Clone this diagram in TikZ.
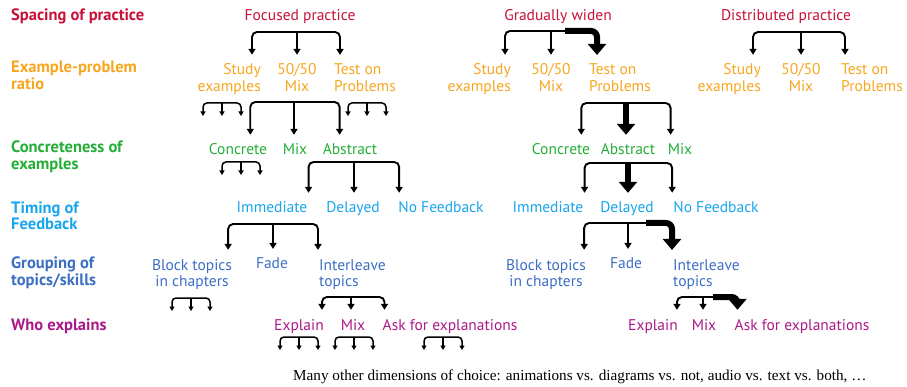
\documentclass[tikz,border=0pt]{standalone}
\usepackage{fontspec}
\setmainfont{PT Sans}
\newfontfamily\notefont{Liberation Serif}
\usetikzlibrary{arrows.meta}
\definecolor{spacered}{RGB}{200,16,56}
\definecolor{ratioorange}{RGB}{247,166,30}
\definecolor{concgreen}{RGB}{35,175,55}
\definecolor{timeblue}{RGB}{25,165,235}
\definecolor{groupblue}{RGB}{60,110,195}
\definecolor{whopurple}{RGB}{170,25,135}
\tikzset{
    row-label/.style = {anchor=base west, align=left, inner sep=1pt, font=\bfseries\fontsize{16.5}{17}\selectfont},
    choice/.style = {anchor=base, align=center, inner sep=1pt, font=\fontsize{15.5}{17}\selectfont},
    fork/.style = {draw, line width=1.9pt, rounded corners=5pt, -{Triangle[length=6pt,width=7pt]}, shorten >=8pt},
    big-arrow/.style = {draw, line width=6pt, rounded corners=6pt, -{Triangle[length=11pt,width=18pt]}, shorten >=8pt},
    stub/.style = {draw, line width=1.5pt, rounded corners=4pt, -{Triangle[length=4.5pt,width=5pt]}},
}
% fork: hub, left target, middle node, right target
\newcommand{\fork}[4]{
    \draw[fork] (#1) -| (#2);
    \draw[fork] (#1) -- (#1 |- #3.north);
    \draw[fork] (#1) -| (#4);
}
% small fork with nothing below it
\newcommand{\stubfork}[1]{
    \draw[stub] (#1) -| ++(-19,13);
    \draw[stub] (#1) -- ++(0,13);
    \draw[stub] (#1) -| ++(19,13);
}

\begin{document}
\begin{tikzpicture}[x=1pt, y=-1pt]
\useasboundingbox (0,0) rectangle (907,387);

% row labels
\node[row-label, text=spacered] (l-spacing) at (10,21) {Spacing of practice};
\node[row-label, text=ratioorange] (l-ratio) at (10,90) {Example-problem\\ratio};
\node[row-label, text=concgreen] (l-concrete) at (10,170) {Concreteness of\\examples};
\node[row-label, text=timeblue] (l-timing) at (10,230) {Timing of\\Feedback};
\node[row-label, text=groupblue] (l-grouping) at (10,285) {Grouping of\\topics/skills};
\node[row-label, text=whopurple] (l-who) at (10,330) {Who explains};

% column heads
\node[choice, text=spacered] (fp) at (300,21) {Focused practice};
\node[choice, text=spacered] (gw) at (558,21) {Gradually widen};
\node[choice, text=spacered] (dp) at (786,21) {Distributed practice};

% example-problem ratio
\node[choice, text=ratioorange, anchor=base east, align=right] (fse) at (262,92) {Study\\examples};
\node[choice, text=ratioorange] (fmx) at (297,92) {50/50\\Mix};
\node[choice, text=ratioorange, anchor=base west, align=left] (ftp) at (333,92) {Test on\\Problems};
\node[choice, text=ratioorange, anchor=base east, align=right] (gse) at (512,92) {Study\\examples};
\node[choice, text=ratioorange] (gmx) at (551,92) {50/50\\Mix};
\node[choice, text=ratioorange, anchor=base west, align=left] (gtp) at (588,92) {Test on\\Problems};
\node[choice, text=ratioorange, anchor=base east, align=right] (dse) at (762,92) {Study\\examples};
\node[choice, text=ratioorange] (dmx) at (801,92) {50/50\\Mix};
\node[choice, text=ratioorange, anchor=base west, align=left] (dtp) at (840,92) {Test on\\Problems};

% concreteness
\node[choice, text=concgreen] (fco) at (238,155) {Concrete};
\node[choice, text=concgreen] (fcm) at (295,155) {Mix};
\node[choice, text=concgreen] (fab) at (350,155) {Abstract};
\node[choice, text=concgreen] (gco) at (561,155) {Concrete};
\node[choice, text=concgreen] (gab) at (628,155) {Abstract};
\node[choice, text=concgreen] (gcm) at (680,155) {Mix};

% timing of feedback
\node[choice, text=timeblue] (fim) at (272,213) {Immediate};
\node[choice, text=timeblue] (fde) at (353,213) {Delayed};
\node[choice, text=timeblue] (fnf) at (441,213) {No Feedback};
\node[choice, text=timeblue] (gim) at (548,213) {Immediate};
\node[choice, text=timeblue] (gde) at (627,213) {Delayed};
\node[choice, text=timeblue] (gnf) at (716,213) {No Feedback};

% grouping
\node[choice, text=groupblue] (fbt) at (192,287) {Block topics\\in chapters};
\node[choice, text=groupblue] (ffa) at (272,269) {Fade};
\node[choice, text=groupblue, anchor=base west, align=left] (fil) at (318,287) {Interleave\\topics};
\node[choice, text=groupblue] (gbt) at (546,287) {Block topics\\in chapters};
\node[choice, text=groupblue] (gfa) at (626,269) {Fade};
\node[choice, text=groupblue, anchor=base west, align=left] (gil) at (672,287) {Interleave\\topics};

% who explains
\node[choice, text=whopurple] (fex) at (299,330) {Explain};
\node[choice, text=whopurple] (fwm) at (353,330) {Mix};
\node[choice, text=whopurple] (fas) at (450,330) {Ask for explanations};
\node[choice, text=whopurple] (gex) at (653,330) {Explain};
\node[choice, text=whopurple] (gwm) at (704,330) {Mix};
\node[choice, text=whopurple] (gas) at (802,330) {Ask for explanations};

\node[anchor=base west, inner sep=0pt, font=\notefont\fontsize{15.2}{17}\selectfont] (note) at (293,380)
    {Many other dimensions of choice: animations vs. diagrams vs. not, audio vs. text vs. both, \dots};

% hubs of the forks
\coordinate (h1) at (297,32);
\coordinate (h2) at (294,102);
\coordinate (h3) at (354,162);
\coordinate (h4) at (273,224);
\coordinate (h5) at (351,297);
\coordinate (h6) at (551,31);
\coordinate (h7) at (626,103);
\coordinate (h8) at (628,163);
\coordinate (h9) at (628,223);
\coordinate (h10) at (703,297);
\coordinate (h11) at (801,32);

% focused practice
\fork{h1}{[xshift=-10pt]fse.north east}{fmx}{[xshift=7pt]ftp.north west}
\fork{h2}{[xshift=-18pt]fco.north east}{fcm}{[xshift=18pt]fab.north west}
\fork{h3}{fim.north east}{fde}{[xshift=2pt]fnf.north west}
\fork{h4}{[xshift=-5pt]fbt.north east}{ffa}{fil.north west}
\fork{h5}{[xshift=-3pt]fex.north east}{fwm}{[xshift=3pt]fas.north west}

\coordinate (s1) at (222,103);
\coordinate (s2) at (367,103);
\coordinate (s3) at (241,162);
\coordinate (s4) at (191,298);
\coordinate (s5) at (299,337);
\coordinate (s6) at (354,337);
\coordinate (s7) at (443,337);
\foreach \s in {s1,s2,s3,s4,s5,s6,s7}
    {\stubfork{\s}}

% gradually widen
\draw[fork] (h6) -| ([xshift=-7pt]gse.north east);
\draw[fork] (h6) -- (h6 |- gmx.north);
\draw[line width=1.9pt] (h6) -- ++(16,0);
\draw[big-arrow] ([xshift=14pt]h6) -| ([xshift=9pt]gtp.north west);

\draw[fork] (h7) -| ([xshift=-10pt]gco.north east);
\draw[big-arrow] (h7) -- (h7 |- gab.north);
\draw[fork] (h7) -| ([xshift=4pt]gcm.north west);

\draw[fork] (h8) -| (gim.north east);
\draw[big-arrow] (h8) -- (h8 |- gde.north);
\draw[fork] (h8) -| (gnf.north west);

\draw[fork] (h9) -| ([xshift=-3pt]gbt.north east);
\draw[fork] (h9) -- (h9 |- gfa.north);
\draw[line width=1.9pt] (h9) -- ++(20,0);
\draw[big-arrow] ([xshift=18pt]h9) -| (gil.north west);

\draw[fork] (h10) -| ([xshift=-2pt]gex.north east);
\draw[fork] (h10) -- (h10 |- gwm.north);
\draw[line width=1.9pt] (h10) -- ++(12,0);
\draw[big-arrow] ([xshift=10pt]h10) -| ([xshift=4pt]gas.north west);

% distributed practice
\fork{h11}{[xshift=-9pt]dse.north east}{dmx}{[xshift=5pt]dtp.north west}
\end{tikzpicture}
\end{document}
